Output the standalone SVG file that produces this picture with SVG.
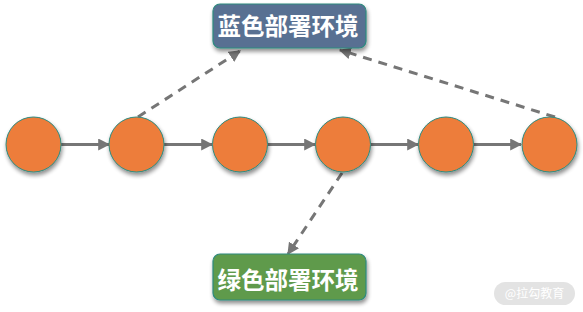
<svg xmlns="http://www.w3.org/2000/svg" width="583" height="312" viewBox="0 0 583 312">
<defs>
<filter id="sh" x="-30%" y="-30%" width="160%" height="170%">
<feGaussianBlur in="SourceAlpha" stdDeviation="2"/>
<feOffset dx="1" dy="3" result="b"/>
<feComponentTransfer><feFuncA type="linear" slope="0.45"/></feComponentTransfer>
<feMerge><feMergeNode/><feMergeNode in="SourceGraphic"/></feMerge>
</filter>
<marker id="ah" viewBox="0 0 10 10" refX="9" refY="5" markerWidth="4" markerHeight="4" orient="auto" markerUnits="strokeWidth">
<path d="M0,0 L10,5 L0,10 Z" fill="#767676"/>
</marker>
</defs>
<style>
.c{fill:#ed7d3a;stroke:#2e8a7f;stroke-width:1;filter:url(#sh)}
.box{stroke:#2e8a7f;stroke-width:1.2;filter:url(#sh)}
.t{font-family:"Noto Sans CJK SC","Noto Sans",sans-serif;font-weight:bold;font-size:23.5px;fill:#fff;text-anchor:middle}
.e{stroke:#767676;stroke-width:3;fill:none;marker-end:url(#ah)}
.d{stroke-dasharray:9 7}
</style>
<g id="connectors">
<line class="e" x1="61" y1="144.5" x2="109" y2="144.5"/>
<line class="e" x1="164" y1="144.5" x2="212" y2="144.5"/>
<line class="e" x1="268" y1="144.5" x2="315" y2="144.5"/>
<line class="e" x1="371" y1="144.5" x2="418" y2="144.5"/>
<line class="e" x1="474" y1="144.5" x2="521" y2="144.5"/>
<line class="e d" x1="138" y1="117" x2="240" y2="51"/>
<line class="e d" x1="555" y1="117" x2="340" y2="50"/>
<line class="e d" x1="342" y1="173" x2="288" y2="254"/>
</g>
<g id="n1"><circle class="c" cx="33.5" cy="144.5" r="27.5"/></g>
<g id="n2"><circle class="c" cx="136.5" cy="144.5" r="27.5"/></g>
<g id="n3"><circle class="c" cx="240" cy="144.5" r="27.5"/></g>
<g id="n4"><circle class="c" cx="343" cy="144.5" r="27.5"/></g>
<g id="n5"><circle class="c" cx="446" cy="144.5" r="27.5"/></g>
<g id="n6"><circle class="c" cx="549.5" cy="144.5" r="27.5"/></g>
<g id="blue"><rect class="box" x="213" y="4" width="153" height="44" rx="7" fill="#587092"/><text class="t" x="288" y="34.5">蓝色部署环境</text></g>
<g id="green"><rect class="box" x="213" y="254" width="153" height="46" rx="7" fill="#5e9a4b"/><text class="t" x="288" y="289">绿色部署环境</text></g>
<g id="watermark"><rect x="494" y="282" width="81" height="23" rx="11.5" fill="#e3e3e3"/><text x="534.5" y="298" font-family="Noto Sans CJK SC,sans-serif" font-size="12" fill="#ffffff" text-anchor="middle">@拉勾教育</text></g>
</svg>
